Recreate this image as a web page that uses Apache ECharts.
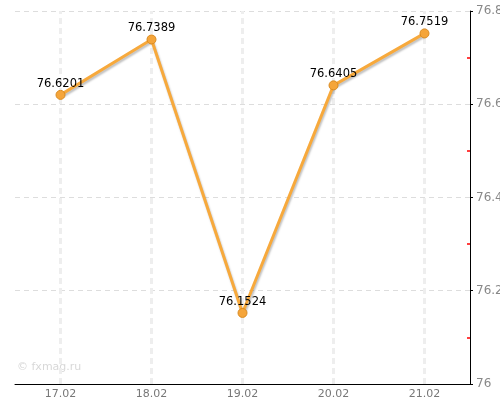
<!DOCTYPE html>
<html><head><meta charset="utf-8">
<script src="https://cdn.jsdelivr.net/npm/echarts@6/dist/echarts.min.js"></script>
<style>html,body{margin:0;padding:0;background:#fff}#c{width:500px;height:400px}</style>
</head><body><div id="c"></div>
<script>
var categories = ['17.02','18.02','19.02','20.02','21.02'];
var values = [76.6201, 76.7389, 76.1524, 76.6405, 76.7519];
var yTicks = [76, 76.2, 76.4, 76.6, 76.8];

var chart = echarts.init(document.getElementById('c'));
var font = 'DejaVu Sans, Verdana, sans-serif';
chart.setOption({
  animation: false,
  grid: {left: 15, right: 30, top: 11, bottom: 16, containLabel: false, outerBoundsMode: 'none'},
  xAxis: {
    type: 'category', data: categories, boundaryGap: true,
    axisLine: {lineStyle: {color: '#000', width: 1}},
    axisTick: {alignWithLabel: true, length: 3, lineStyle: {color: '#555'}},
    axisLabel: {color: '#777', fontSize: 11, fontFamily: font, margin: 5},
    splitLine: {show: false}
  },
  yAxis: [{
    type: 'value', position: 'right', min: yTicks[0], max: yTicks[yTicks.length-1], interval: 0.2,
    axisLine: {show: true, lineStyle: {color: '#000', width: 1}},
    axisTick: {show: true, length: 3, lineStyle: {color: '#000'}},
    axisLabel: {color: '#888', fontSize: 12, fontFamily: font, margin: 6,
      formatter: function(v){ return String(Math.round(v*10)/10); }},
    splitLine: {show: true, lineStyle: {color: '#ddd', width: 1, type: [5, 4]}}
  },{
    type: 'value', position: 'right', min: yTicks[0], max: yTicks[yTicks.length-1], interval: 0.2,
    axisLine: {show: false}, axisLabel: {show: false}, splitLine: {show: false},
    axisTick: {show: false, inside: true},
    minorTick: {show: true, splitNumber: 2, length: 3, lineStyle: {color: '#ff0000', width: 1.5}}
  }],
  graphic: [{
    type: 'text', left: 17, top: 362,
    style: {text: '© fxmag.ru', fill: '#d8d8d8', font: '11px ' + font}
  }],
  series: [{
    type: 'line', data: values, yAxisIndex: 0, z: 3,
    symbol: 'circle', symbolSize: 9,
    lineStyle: {color: '#f7a93c', width: 3, shadowColor: 'rgba(0,0,0,0.25)', shadowBlur: 2, shadowOffsetY: 2, shadowOffsetX: 1},
    itemStyle: {color: '#f5a53a', borderColor: '#d98a20', borderWidth: 1},
    label: {show: true, position: 'top', distance: 0, color: '#000', fontSize: 11.5, fontFamily: font,
      formatter: function(p){ return p.value.toFixed(4); }},
    markLine: {
      silent: true, symbol: 'none', z: 1,
      label: {show: false},
      lineStyle: {color: '#eee', width: 3, type: [6, 4]},
      emphasis: {disabled: true},
      data: categories.map(function(c){ return {xAxis: c}; })
    }
  }]
});
</script></body></html>
